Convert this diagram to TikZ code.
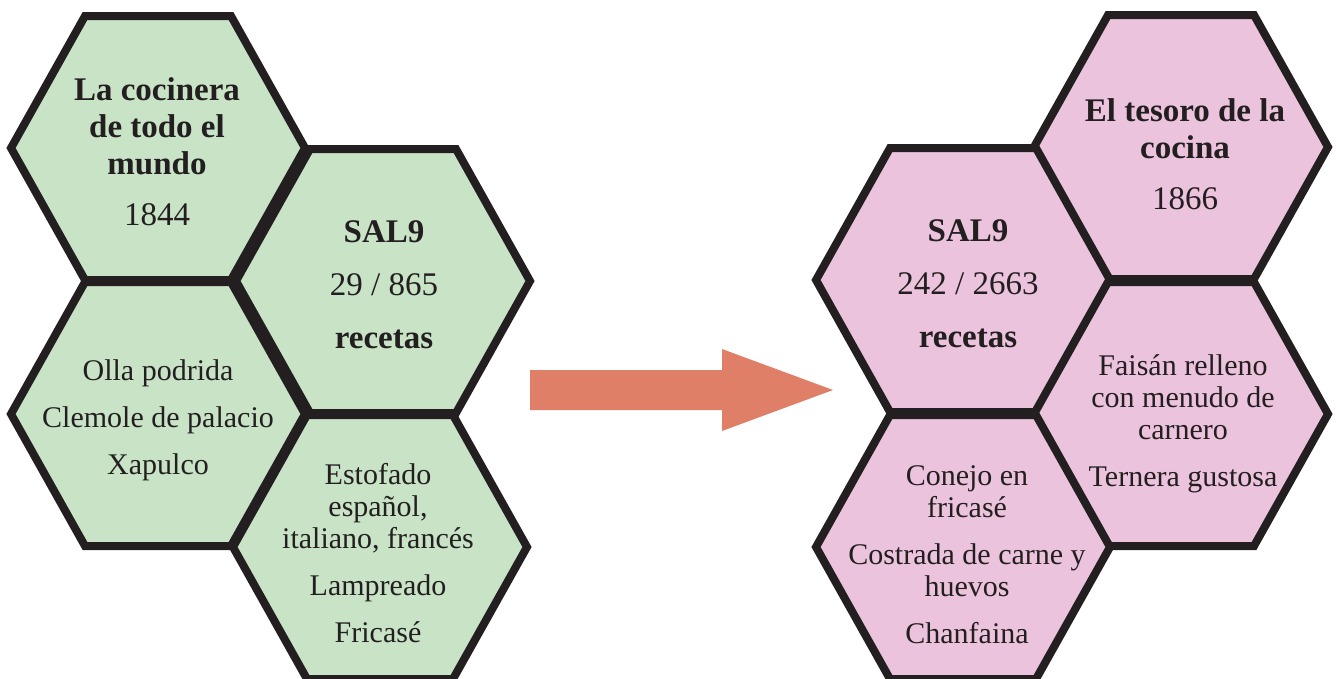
\documentclass[tikz,border=0pt]{standalone}
\usepackage{fontspec}
\setmainfont{Liberation Serif}
\definecolor{ink}{HTML}{231F20}
\definecolor{leafgreen}{HTML}{C8E3C6}
\definecolor{rosepink}{HTML}{ECC3DC}
\definecolor{salmon}{HTML}{E07F67}
\tikzset{
  cellpath/.style={line width=8pt, draw=ink, line join=miter},
  titletext/.style={align=center, text=ink, font=\fontsize{33}{37}\selectfont},
  listtext/.style={align=center, text=ink, font=\fontsize{30}{32}\selectfont},
}
% hexagon centred on (#1,#2): half width 147, half top 73, half height 132
\newcommand{\hexcell}[3]{%
  \path[cellpath, fill=#3] (#1,#2) ++(-147,0) -- ++(74,-132) -- ++(146,0)
    -- ++(74,132) -- ++(-74,132) -- ++(-146,0) -- cycle;}
\begin{document}
\begin{tikzpicture}[x=1pt, y=-1pt]
  \useasboundingbox (0,0) rectangle (1336,678);
  % left group
  \hexcell{158}{148}{leafgreen}
  \hexcell{383}{281}{leafgreen}
  \hexcell{158}{414}{leafgreen}
  \hexcell{380}{547}{leafgreen}
  % right group
  \hexcell{1181}{147}{rosepink}
  \hexcell{963}{280}{rosepink}
  \hexcell{1181}{414}{rosepink}
  \hexcell{963}{547}{rosepink}

  % texts, left group
  \node[titletext] (a) at (157,152) {\textbf{La cocinera}\\\textbf{de todo el}\\\textbf{mundo}\\[14pt]1844};
  \node[titletext] (b) at (384,285) {\textbf{SAL9}\\[16pt]29 / 865\\[16pt]\textbf{recetas}};
  \node[listtext] (c) at (158,420) {Olla podrida\\[15pt]Clemole de palacio\\[15pt]Xapulco};
  \node[listtext] (d) at (378,553) {Estofado\\español,\\italiano, francés\\[15pt]Lampreado\\[15pt]Fricasé};

  % texts, right group
  \node[titletext] (f) at (1185,154) {\textbf{El tesoro de la}\\\textbf{cocina}\\[14pt]1866};
  \node[titletext] (e) at (968,284) {\textbf{SAL9}\\[16pt]242 / 2663\\[16pt]\textbf{recetas}};
  \node[listtext] (g) at (1183,424) {Faisán relleno\\con menudo de\\carnero\\[15pt]Ternera gustosa};
  \node[listtext] (h) at (967,555) {Conejo en\\fricasé\\[15pt]Costrada de carne y\\huevos\\[15pt]Chanfaina};

  % block arrow between the groups
  \fill[salmon] (530,370) -- (722,370) -- (722,349) -- (833,390)
    -- (722,431) -- (722,410) -- (530,410) -- cycle;
\end{tikzpicture}
\end{document}
